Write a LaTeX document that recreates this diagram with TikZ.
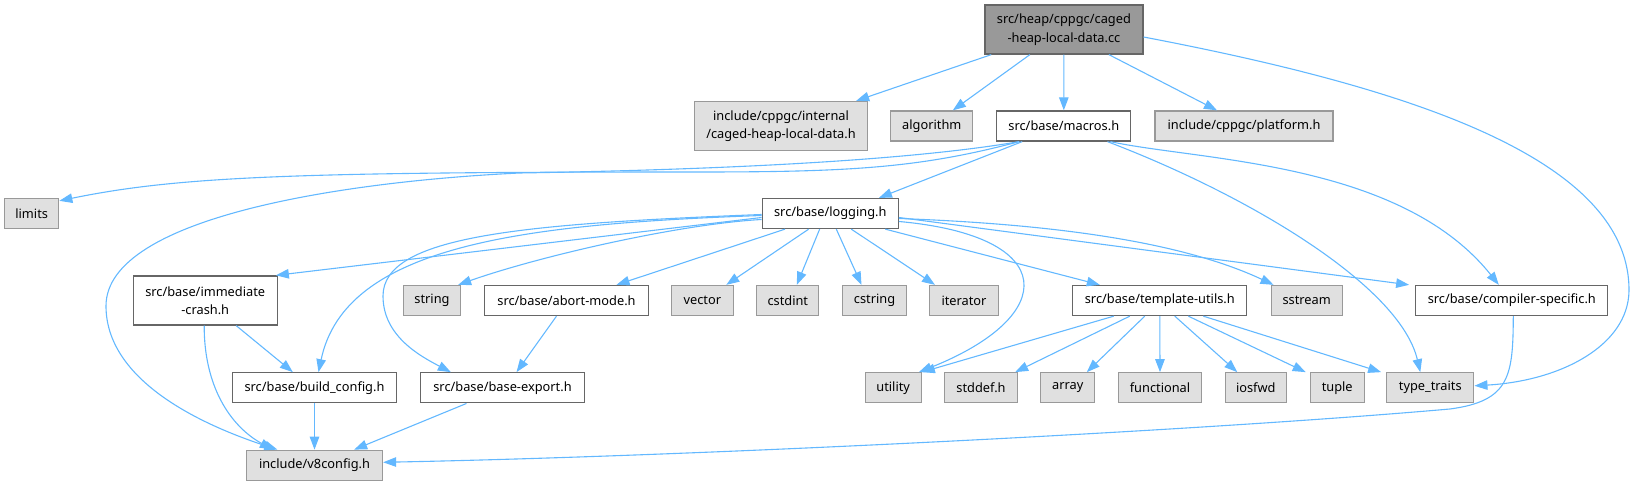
\documentclass[tikz,border=0pt]{standalone}
\usepackage{fontspec}
\setmainfont{Noto Sans}
\usepackage{xcolor}
\usetikzlibrary{arrows.meta}

\definecolor{edgeblue}{HTML}{63B8FF}
\definecolor{sysfill}{HTML}{E0E0E0}
\definecolor{sysline}{HTML}{999999}
\definecolor{hdrline}{HTML}{666666}

\begin{document}
\begin{tikzpicture}[
    x=1pt, y=1pt,
    hdr/.style={draw=hdrline, fill=white, line width=1.3pt, inner sep=0pt, minimum height=30pt, minimum width=#1, font=\fontsize{12.8}{18.5}\selectfont, align=center},
    sys/.style={hdr=#1, draw=sysline, fill=sysfill},
    cur/.style={hdr=#1, fill=sysline, minimum height=49pt},
    dep/.style={draw=edgeblue, line width=1.1pt, -{Triangle[length=13pt, width=9.5pt]}}
]
\useasboundingbox (0,0) rectangle (1634,486);

% source file
\node[cur=158pt] (cur) at (1063.9,456.5) {src/heap/cppgc/caged\\-heap-local-data.cc};

% first level
\node[sys=173pt, minimum height=49pt] (internal) at (781,360) {include/cppgc/internal\\/caged-heap-local-data.h};
\node[sys=82pt] (algorithm) at (931.8,360) {algorithm};
\node[hdr=134pt] (macros) at (1063.8,360) {src/base/macros.h};
\node[sys=178pt] (platform) at (1244,360) {include/cppgc/platform.h};

\node[sys=54pt] (limits) at (31.7,272.5) {limits};
\node[hdr=136pt] (logging) at (830.3,272.5) {src/base/logging.h};

% includes of logging.h
\node[hdr=144pt, minimum height=49pt] (immcrash) at (205.2,185.5) {src/base/immediate\\-crash.h};
\node[sys=57pt] (string) at (432,185.5) {string};
\node[hdr=164pt] (abortmode) at (566.5,185.5) {src/base/abort-mode.h};
\node[sys=62pt] (vector) at (702.3,185.5) {vector};
\node[sys=62pt] (cstdint) at (787.8,185.5) {cstdint};
\node[sys=64pt] (cstring) at (874.5,185.5) {cstring};
\node[sys=69pt] (iterator) at (964,185.5) {iterator};
\node[hdr=174pt] (tmplutils) at (1159.8,185.5) {src/base/template-utils.h};
\node[sys=71pt] (sstream) at (1306.7,185.5) {sstream};
\node[hdr=192pt] (compspec) at (1511.8,185.5) {src/base/compiler-specific.h};

\node[hdr=164pt] (buildcfg) at (314.5,98.2) {src/base/build\_config.h};
\node[hdr=164pt] (baseexport) at (502.5,98.2) {src/base/base-export.h};
\node[sys=56pt] (utility) at (893.2,98.2) {utility};
\node[sys=73pt] (stddef) at (981,98.2) {stddef.h};
\node[sys=54pt] (array) at (1067.8,98.2) {array};
\node[sys=83pt] (functional) at (1160,98.2) {functional};
\node[sys=61pt] (iosfwd) at (1255.8,98.2) {iosfwd};
\node[sys=54pt] (tuple) at (1337.2,98.2) {tuple};
\node[sys=87pt] (typetraits) at (1430.3,98.2) {type\_traits};

\node[sys=136pt] (v8config) at (314.5,20.7) {include/v8config.h};

% from the source file
\draw[dep] ([xshift=7pt]cur.south west) -- ([xshift=-12pt]internal.north east);
\draw[dep] ([xshift=-34pt]cur.south) -- ([xshift=21pt]algorithm.north);
\draw[dep] (cur.south) -- (macros.north);
\draw[dep] ([xshift=45pt]cur.south) -- ([xshift=-27pt]platform.north);
\draw[dep] ([yshift=-7.5pt]cur.east) .. controls (1400,400) and (1630,330) .. (1629,195)
    .. controls (1628,140) and (1560,105) .. ([yshift=2pt]typetraits.east);

% from macros.h
\draw[dep] ([xshift=23pt]macros.south west) .. controls (920,318) and (850,314) .. (700,314)
    .. controls (300,314) and (180,310) .. ([yshift=-3pt]limits.north east);
\draw[dep] ([xshift=23pt]macros.south west) .. controls (900,324) and (700,316) .. (520,313)
    .. controls (350,305) and (106,270) .. (106,180)
    .. controls (106,110) and (190,65) .. ([xshift=31.6pt]v8config.north west);
\draw[dep] ([xshift=26pt]macros.south west) -- ([xshift=-20pt]logging.north east);
\draw[dep] ([xshift=-24pt]macros.south east) .. controls (1250,290) and (1400,200) .. ([xshift=-10pt]typetraits.north);
\draw[dep] ([xshift=-21pt]macros.south east) .. controls (1200,325) and (1400,325) .. ([xshift=-13pt]compspec.north);

% from logging.h, left side
\draw[dep] ([yshift=-4pt]logging.west) -- ([xshift=-2pt]immcrash.north east);
\draw[dep] ([yshift=-2pt]logging.west) .. controls (520,262) and (345,240) .. ([xshift=4pt]buildcfg.north);
\draw[dep] ([yshift=-1pt]logging.west) .. controls (520,262) and (383,250) .. (383,190)
    .. controls (383,150) and (420,130) .. ([xshift=31pt]baseexport.north west);
\draw[dep] ([yshift=-6pt]logging.west) .. controls (680,262) and (540,230) .. ([xshift=-3pt]string.north east);

% from logging.h, bottom
\draw[dep] ([xshift=23.4pt]logging.south west) -- ([xshift=50pt]abortmode.north);
\draw[dep] ([xshift=47pt]logging.south west) -- ([xshift=24pt]vector.north);
\draw[dep] ([xshift=58pt]logging.south west) -- ([xshift=9pt]cstdint.north);
\draw[dep] ([xshift=6pt]logging.south) -- ([xshift=-13pt]cstring.north);
\draw[dep] ([xshift=21pt]logging.south) -- ([xshift=-29pt]iterator.north);
\draw[dep] ([xshift=55pt]logging.south) -- ([xshift=-60pt]tmplutils.north);

% from logging.h, right side
\draw[dep] ([yshift=-8pt]logging.east) .. controls (1060,250) and (1060,170) .. ([xshift=-3pt]utility.north east);
\draw[dep] ([yshift=-5pt]logging.east) .. controls (1050,262) and (1180,245) .. ([xshift=3pt]sstream.north west);
\draw[dep] ([yshift=-4pt]logging.east) -- ([xshift=-6pt]compspec.north west);

% lower levels
\draw[dep] ([xshift=31pt]immcrash.south) -- ([xshift=61pt]buildcfg.north west);
\draw[dep] ([xshift=-1pt]immcrash.south) .. controls (204,100) and (230,60) .. ([xshift=27pt]v8config.north west);
\draw[dep] (buildcfg) -- (v8config);
\draw[dep] ([xshift=-10pt]abortmode.south) -- ([xshift=14pt]baseexport.north);
\draw[dep] ([xshift=-36pt]baseexport.south) -- ([xshift=-29pt]v8config.north east);

% template-utils.h
\draw[dep] ([xshift=-46pt]tmplutils.south) -- (utility.north east);
\draw[dep] ([xshift=-30pt]tmplutils.south) -- ([xshift=-3pt]stddef.north east);
\draw[dep] ([xshift=-15pt]tmplutils.south) -- ([xshift=19pt]array.north);
\draw[dep] (tmplutils.south) -- (functional.north);
\draw[dep] ([xshift=15pt]tmplutils.south) -- ([xshift=-18.5pt]iosfwd.north);
\draw[dep] ([xshift=28.5pt]tmplutils.south) -- ([xshift=-31.5pt]tuple.north);
\draw[dep] ([xshift=43.5pt]tmplutils.south) -- ([xshift=-5pt]typetraits.north west);

% compiler-specific.h
\draw[dep] ([xshift=1.5pt]compspec.south) .. controls (1513,110) and (1510,85) .. (1450,77)
    .. controls (1200,55) and (700,30) .. ([yshift=3pt]v8config.east);

\end{tikzpicture}
\end{document}
